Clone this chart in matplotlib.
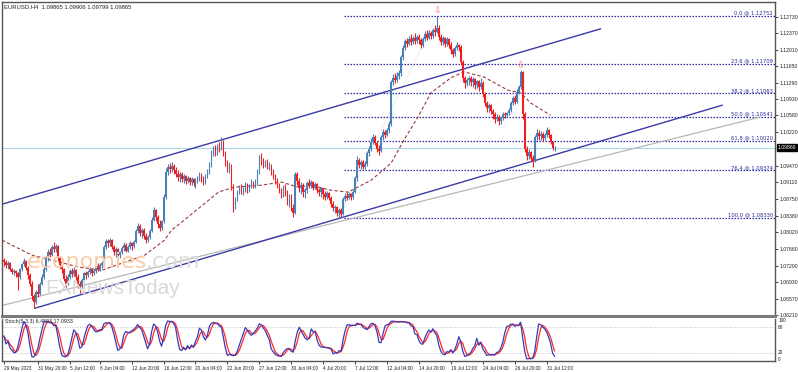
import numpy as np
import pandas as pd
import matplotlib
matplotlib.use("Agg")
import matplotlib.pyplot as plt
from matplotlib.transforms import blended_transform_factory
from matplotlib import font_manager as fm

# ---------------- data (prices in pips above 1.0000) ----------------
first_open_pips = 742
close_pips = [
    738, 730, 735, 722, 715, 718, 712, 705, 722, 732,
    740, 725, 708, 690, 662, 650, 672, 668, 690, 705,
    722, 745, 760, 752, 770, 765, 772, 745, 730, 722,
    700, 690, 705, 718, 710, 720, 705, 690, 684, 698,
    712, 708, 715, 722, 712, 718, 728, 722, 730, 735,
    770, 782, 778, 785, 770, 760, 765, 752, 758, 768,
    775, 762, 770, 778, 772, 780, 805, 815, 800, 808,
    795, 785, 792, 805, 830, 850, 835, 820, 812, 826,
    880, 935, 945, 940, 948, 938, 930, 922, 930, 918,
    925, 915, 920, 912, 918, 910, 915, 922, 930, 918,
    912, 925, 935, 950, 975, 985, 978, 990, 985, 998,
    975, 955, 945, 950, 905, 860, 875, 890, 900, 892,
    898, 905, 895, 902, 910, 905, 912, 935, 965, 958,
    950, 955, 945, 950, 935, 925, 915, 905, 895, 885,
    900, 890, 870, 880, 855, 845, 930, 915, 900, 905,
    890, 895, 910, 905, 912, 900, 908, 895, 890, 898,
    885, 880, 888, 878, 865, 855, 858, 845, 850, 842,
    875, 882, 878, 885, 880, 890, 920, 960, 950, 955,
    945, 952, 975, 985, 1000, 1010, 998, 985, 980, 1010,
    1022, 1015, 1025, 1040, 1130, 1140, 1135, 1145, 1150, 1185,
    1205, 1220, 1215, 1225, 1218, 1228, 1220, 1230, 1222, 1212,
    1225, 1235, 1228, 1238, 1232, 1245, 1240, 1250, 1230, 1218,
    1228, 1215, 1225, 1212, 1200, 1192, 1205, 1212, 1208, 1175,
    1140, 1128, 1135, 1140, 1130, 1138, 1125, 1132, 1120, 1128,
    1105, 1085, 1075, 1080, 1068, 1060, 1050, 1055, 1045, 1052,
    1060, 1058, 1062, 1070, 1085, 1095, 1088, 1110, 1120, 1152,
    1060, 985, 970, 978, 965, 958, 1010, 1020, 1012, 1018,
    1008, 1015, 1025, 1015, 1000, 986.5, 986.5,
]
high_pips = [
    745, 742, 740, 738, 725, 722, 720, 715, 725, 735,
    745, 742, 728, 712, 695, 668, 676, 690, 694, 710,
    728, 750, 765, 768, 775, 780, 776, 775, 750, 735,
    725, 708, 710, 722, 725, 726, 722, 710, 695, 702,
    716, 718, 720, 726, 725, 722, 732, 735, 734, 740,
    775, 787, 788, 790, 788, 775, 770, 768, 762, 772,
    780, 778, 774, 782, 780, 786, 810, 822, 820, 812,
    812, 800, 796, 810, 836, 858, 852, 840, 828, 830,
    885, 942, 952, 953, 955, 952, 945, 938, 934, 935,
    930, 928, 925, 924, 922, 920, 920, 926, 935, 932,
    925, 930, 940, 955, 982, 990, 992, 995, 1000, 1010,
    1005, 980, 960, 955, 952, 908, 880, 895, 905, 908,
    902, 912, 910, 908, 918, 915, 918, 940, 972, 975,
    965, 960, 962, 955, 952, 940, 930, 920, 910, 900,
    905, 908, 895, 885, 885, 865, 935, 935, 920, 912,
    910, 900, 915, 918, 916, 915, 912, 910, 900, 902,
    900, 892, 892, 890, 882, 870, 862, 860, 855, 856,
    880, 888, 890, 890, 888, 895, 925, 968, 965, 960,
    960, 958, 980, 990, 1008, 1018, 1015, 1002, 992, 1015,
    1028, 1026, 1030, 1045, 1135, 1148, 1150, 1152, 1158, 1190,
    1212, 1225, 1228, 1232, 1236, 1232, 1238, 1234, 1235, 1228,
    1230, 1242, 1245, 1244, 1242, 1250, 1255, 1275, 1255, 1235,
    1232, 1230, 1230, 1228, 1218, 1205, 1210, 1218, 1215, 1212,
    1178, 1145, 1140, 1145, 1145, 1142, 1140, 1136, 1135, 1140,
    1132, 1108, 1090, 1085, 1082, 1072, 1065, 1060, 1058, 1056,
    1065, 1065, 1066, 1075, 1090, 1100, 1102, 1115, 1125, 1158,
    1155, 1065, 990, 985, 980, 972, 1015, 1028, 1025, 1024,
    1022, 1020, 1032, 1028, 1018, 1002, 990.6,
]
low_pips = [
    728, 725, 722, 718, 710, 708, 705, 675, 700, 718,
    728, 720, 700, 685, 655, 636, 645, 660, 664, 686,
    700, 718, 740, 748, 750, 760, 758, 740, 722, 712,
    695, 680, 686, 700, 705, 706, 698, 680, 669, 680,
    695, 700, 704, 710, 706, 708, 714, 718, 718, 725,
    732, 765, 770, 772, 765, 752, 748, 745, 746, 755,
    762, 758, 760, 766, 764, 768, 778, 800, 795, 790,
    788, 778, 780, 788, 802, 826, 826, 812, 805, 808,
    822, 875, 928, 932, 935, 930, 922, 915, 912, 912,
    910, 908, 910, 906, 905, 903, 900, 910, 915, 912,
    905, 908, 920, 930, 945, 968, 970, 972, 978, 982,
    968, 948, 935, 932, 895, 846, 852, 870, 885, 886,
    884, 890, 888, 890, 898, 898, 900, 905, 930, 950,
    942, 945, 940, 938, 928, 918, 908, 898, 888, 878,
    880, 882, 862, 858, 848, 835, 842, 905, 890, 885,
    880, 878, 888, 898, 900, 895, 896, 888, 882, 880,
    876, 872, 875, 872, 858, 848, 845, 838, 833, 835,
    840, 870, 872, 874, 872, 876, 888, 915, 942, 940,
    940, 940, 948, 970, 980, 995, 992, 978, 972, 978,
    1005, 1008, 1012, 1020, 1035, 1125, 1128, 1130, 1138, 1145,
    1180, 1200, 1208, 1212, 1212, 1215, 1214, 1216, 1215, 1205,
    1208, 1220, 1222, 1225, 1225, 1228, 1232, 1238, 1222, 1212,
    1212, 1208, 1210, 1205, 1192, 1185, 1188, 1200, 1198, 1168,
    1130, 1118, 1122, 1125, 1122, 1120, 1115, 1118, 1112, 1115,
    1098, 1078, 1065, 1065, 1060, 1050, 1042, 1045, 1036, 1040,
    1048, 1052, 1055, 1058, 1065, 1080, 1082, 1085, 1105, 1115,
    1050, 978, 960, 962, 958, 945, 955, 1005, 1005, 1005,
    1002, 1003, 1010, 1008, 995, 982, 979.9,
]

# moving average (dashed) read at sample candles
ma_idx = [-1, 14, 37.5, 49, 70.5, 80.5, 84, 89, 102.5, 107.5, 115.5, 129, 139,
          147.5, 154, 164, 172.5, 184, 194, 200.5, 207.5, 214, 224, 230.5,
          240.5, 252.5, 259, 264, 274]
ma_pips = [785, 752, 726, 719, 752, 785, 807, 824, 872, 890, 901, 905, 912,
           901, 905, 894, 890, 916, 953, 1004, 1054, 1107, 1140, 1153,
           1142, 1113, 1107, 1085, 1058]

# drawn objects (candle index, pips)
upper_channel = ([-1, 299], [863.5, 1247])
lower_channel = ([15.5, 360], [636, 1080])
gray_trend = ([-1, 379], [642, 1054])
fib_anchor = ([167.5, 217], [833, 1275.2])
fib_names = ["0.0", "23.6", "38.2", "50.0", "61.8", "76.4", "100.0"]
fib_prices = [1.12752, 1.11709, 1.11063, 1.10541, 1.10020, 1.09374, 1.08330]
fib_start = 170.5
fractal_idx = [217, 259]
fractal_pips = [1287, 1166]

bid_price = 1.09866
ytick_vals = [1.12730, 1.12370, 1.12010, 1.11650, 1.11290, 1.10930, 1.10580,
              1.10220, 1.09470, 1.09110, 1.08750, 1.08380, 1.08020, 1.07660,
              1.07290, 1.06930, 1.06570, 1.06210]
xtick_idx = [0, 17, 33, 48, 64, 80, 96, 112, 128, 144, 160, 176, 192, 208,
             224, 240, 256, 272]
xtick_lbl = ["29 May 2023", "31 May 20:00", "5 Jun 12:00", "8 Jun 04:00",
             "12 Jun 20:00", "16 Jun 12:00", "20 Jun 04:00", "22 Jun 20:00",
             "27 Jun 12:00", "30 Jun 04:00", "4 Jul 20:00", "7 Jul 12:00",
             "12 Jul 04:00", "14 Jul 20:00", "19 Jul 12:00", "24 Jul 04:00",
             "26 Jul 20:00", "31 Jul 12:00"]
header = "EURUSD,H4  1.09865 1.09906 1.09799 1.09865"
stoch_title = "Stoch(5,3,3) 6.4803 17.0933"

# ---------------- prep ----------------
_names = {f.name for f in fm.fontManager.ttflist}
NARROW = "Liberation Sans Narrow" if "Liberation Sans Narrow" in _names else "Liberation Sans"

P = lambda v: 1.0 + np.asarray(v, dtype=float) / 1e4
c = P(close_pips)
h = P(high_pips)
l = P(low_pips)
o = np.concatenate([[P(first_open_pips)], c[:-1]])
h = np.maximum.reduce([h, o, c])
l = np.minimum.reduce([l, o, c])
n = len(c)
x = np.arange(n)

# stochastic 5,3,3 from candle data
hh = pd.Series(h).rolling(5, min_periods=1).max()
ll = pd.Series(l).rolling(5, min_periods=1).min()
num = (pd.Series(c) - ll).rolling(3, min_periods=1).sum()
den = (hh - ll).rolling(3, min_periods=1).sum()
k = 100 * num / den
d = k.rolling(3, min_periods=1).mean()

W, H = 798, 372
fig = plt.figure(figsize=(W / 100, H / 100), dpi=100)
fig.patch.set_facecolor("white")

ax = fig.add_axes([2 / W, 1 - 316 / H, 773 / W, 314 / H])
axs = fig.add_axes([2 / W, 1 - 361.2 / H, 773 / W, 42.4 / H])

XMIN, XMAX = -1, 386.5
ax.set_xlim(XMIN, XMAX)
ax.set_ylim(1.0619, 1.13058)
axs.set_xlim(XMIN, XMAX)
axs.set_ylim(0, 100)

UP = "#4a7fb8"
DN = "#f21d1d"
cols = np.where(c >= o, UP, DN)

# watermark
fig.text(27 / W, 1 - 268 / H, "economies", fontsize=16, color="#fbcaa8",
         family="DejaVu Sans", va="baseline", ha="left", zorder=0)
fig.text(146 / W, 1 - 268 / H, ".com", fontsize=16, color="#dcdcdc",
         family="DejaVu Sans", va="baseline", ha="left", zorder=0)
fig.text(45 / W, 1 - 294 / H, "FXNewsToday", fontsize=15, color="#d8d8d8",
         family=NARROW, va="baseline", ha="left", zorder=0)

# current price line
ax.axhline(bid_price, color="#a9d9e6", lw=0.8, zorder=1)

# fib levels
for name, pr in zip(fib_names, fib_prices):
    ax.plot([fib_start, XMAX], [pr, pr], color="#2b2ba0", lw=0.9,
            linestyle=(0, (1.2, 1.2)), zorder=2)
    ax.text(XMAX - 1, pr + 0.00008, f"{name} @ {pr:.5f}", fontsize=3.8,
            color="#2b2ba0", ha="right", va="bottom", zorder=3)
ax.plot(fib_anchor[0], P(fib_anchor[1]), color="#cfcfcf", lw=0.6,
        linestyle=(0, (1, 1.5)), zorder=1)

# trend lines
ax.plot(gray_trend[0], P(gray_trend[1]), color="#b8b8b8", lw=0.9, zorder=2)
ax.plot(upper_channel[0], P(upper_channel[1]), color="#3a3aa8", lw=1.0, zorder=2)
ax.plot(lower_channel[0], P(lower_channel[1]), color="#3a3aa8", lw=1.0, zorder=2)

# moving average
ax.plot(ma_idx, P(ma_pips), color="#9a3b3b", lw=0.8,
        linestyle=(0, (3, 2)), zorder=3)

# candles
ax.vlines(x, l, h, colors=cols, lw=0.8, zorder=4)
body = np.maximum(np.abs(c - o), 0.00003)
ax.bar(x, body, bottom=np.minimum(o, c), width=0.75, color=cols,
       linewidth=0, zorder=5)

# fractal arrows
for fi, fp in zip(fractal_idx, P(fractal_pips)):
    ax.text(fi, fp, "\u21e9", color="#ff6a6a", fontsize=6.5, ha="center",
            va="center", family="DejaVu Sans", zorder=6)

# axes styling main
for sp in ["top", "left", "right"]:
    ax.spines[sp].set_color("#555555")
    ax.spines[sp].set_linewidth(1.0)
ax.spines["bottom"].set_color("#7a7a7a")
ax.spines["bottom"].set_linewidth(2.2)
ax.set_xticks([])
ax.yaxis.tick_right()
ax.set_yticks(ytick_vals)
ax.set_yticklabels([f"{v:.5f}" for v in ytick_vals], family=NARROW)
ax.tick_params(axis="y", direction="out", length=2, width=0.6, pad=1,
               labelsize=3.7, colors="#222222")

# price box
ax.text(1.0035, bid_price, f"{bid_price:.5f}",
        transform=blended_transform_factory(ax.transAxes, ax.transData),
        fontsize=3.7, color="white", ha="left", va="center", family=NARROW,
        bbox=dict(boxstyle="square,pad=0.2", fc="black", ec="black"), zorder=10,
        clip_on=False)

fig.text(4 / W, 1 - 6.5 / H, header, fontsize=4.2, color="#202020",
         ha="left", va="center", family=NARROW)

# stochastic panel
axs.axhline(80, color="#b0b0b0", lw=0.6, linestyle=(0, (1, 2)))
axs.axhline(20, color="#b0b0b0", lw=0.6, linestyle=(0, (1, 2)))
axs.plot(x, d, color="#ff2a2a", lw=0.9, zorder=3)
axs.plot(x, k, color="#3a3ab8", lw=0.9, zorder=4)
for sp in ["left", "right", "bottom"]:
    axs.spines[sp].set_color("#555555")
    axs.spines[sp].set_linewidth(1.0)
axs.spines["top"].set_visible(False)
axs.set_yticks([])
axs.set_xticks(xtick_idx)
axs.set_xticklabels(xtick_lbl, family=NARROW)
for t in axs.get_xticklabels():
    t.set_ha("left")
axs.tick_params(axis="x", direction="out", length=2, width=0.6, pad=1.5,
                labelsize=3.4, colors="#222222")
tr = blended_transform_factory(axs.transAxes, axs.transData)
for val, lab in zip([96, 80, 20, 5], ["100", "80", "20", "0"]):
    axs.text(1.004, val, lab, transform=tr, fontsize=3.4, color="#222222",
             ha="left", va="center", clip_on=False, family=NARROW)
axs.text(0.004, 93, stoch_title, transform=tr, fontsize=3.8, color="#222222",
         ha="left", va="center", family=NARROW)

fig.savefig("out.png", dpi=100, facecolor="white")
